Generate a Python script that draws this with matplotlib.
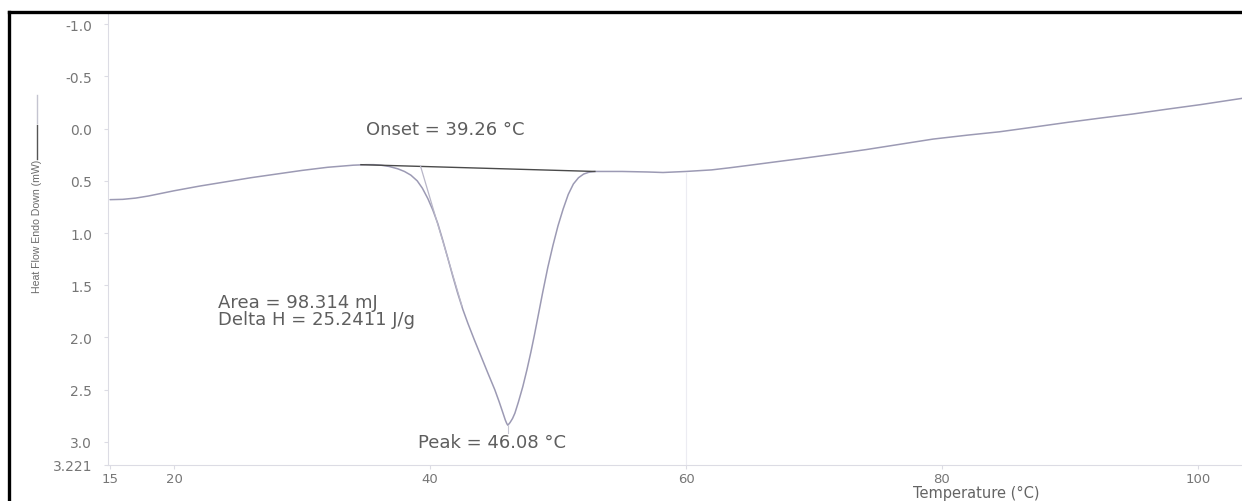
import matplotlib
matplotlib.use("Agg")
import matplotlib.pyplot as plt
from matplotlib.lines import Line2D

# DSC heating scan (temperature in degC, heat flow in mW, endotherm plotted downward)
temperature = [15.0, 16.0, 17.0, 18.0, 19.0, 20.0, 22.0, 24.0, 26.0, 28.0, 30.0, 32.0,
               33.0, 34.0, 35.0, 35.6, 36.16, 36.8, 37.49, 38.0, 38.5, 39.0, 39.4, 39.83,
               40.22, 40.61, 41.0, 41.39, 41.78, 42.17, 42.56, 42.96, 43.47, 43.97, 44.5,
               45.06, 45.4, 45.69, 45.88, 46.0, 46.08, 46.25, 46.45, 46.63, 46.9, 47.25,
               47.57, 47.88, 48.15, 48.42, 48.8, 49.2, 49.6, 50.0, 50.4, 50.8, 51.2, 51.6,
               52.0, 52.4, 52.88, 55.0, 57.0, 58.2, 60.0, 62.0, 63.4, 65.0, 67.0, 68.9,
               71.5, 74.1, 76.7, 79.3, 82.0, 84.5, 87.0, 89.8, 92.3, 94.9, 97.5, 100.2,
               103.44]
heat_flow = [0.68, 0.677, 0.665, 0.645, 0.62, 0.595, 0.55, 0.51, 0.47, 0.435, 0.40, 0.37,
             0.36, 0.35, 0.345, 0.345, 0.35, 0.362, 0.385, 0.41, 0.445, 0.50, 0.57, 0.67,
             0.78, 0.91, 1.07, 1.24, 1.415, 1.58, 1.73, 1.865, 2.025, 2.175, 2.335,
             2.50, 2.615, 2.72, 2.79, 2.825, 2.84, 2.815, 2.775, 2.725, 2.62, 2.47,
             2.31, 2.14, 1.98, 1.81, 1.57, 1.33, 1.12, 0.93, 0.77, 0.63, 0.53, 0.47,
             0.435, 0.418, 0.41, 0.41, 0.415, 0.42, 0.41, 0.395, 0.375, 0.35, 0.318, 0.288,
             0.245, 0.20, 0.15, 0.10, 0.062, 0.03, -0.012, -0.06, -0.10, -0.14, -0.185, -0.23,
             -0.29]

# integration baseline and onset tangent
baseline_t = [34.6, 52.88]
baseline_v = [0.345, 0.41]
tangent_t = [39.26, 42.5]
tangent_v = [0.36, 1.70]

onset_temp = 39.26
peak_temp = 46.08
peak_value = 2.84
area_mj = 98.314
delta_h = 25.2411

y_ticks = [-1.0, -0.5, 0.0, 0.5, 1.0, 1.5, 2.0, 2.5, 3.0, 3.221]
y_tick_labels = ["-1.0", "-0.5", "0.0", "0.5", "1.0", "1.5", "2.0", "2.5", "3.0", "3.221"]
x_ticks = [15, 20, 40, 60, 80, 100]

plt.rcParams['font.family'] = ['DejaVu Sans']

W, H = 1242, 502
fig = plt.figure(figsize=(W / 100, H / 100), dpi=100)
fig.patch.set_facecolor("white")

ax_l, ax_r = 108 / W, 1.0
ax_t, ax_b = 1 - 13 / H, 1 - 466 / H
ax = fig.add_axes([ax_l, ax_b, ax_r - ax_l, ax_t - ax_b])

curve_col = "#9c9ab4"
axis_col = "#dcdce4"
text_col = "#5e5e5e"

ax.plot(temperature, heat_flow, color=curve_col, lw=1.1, solid_capstyle="round",
        solid_joinstyle="round")
ax.plot(baseline_t, baseline_v, color="#4a4a4a", lw=1.0)
ax.plot(tangent_t, tangent_v, color="#b8b6c8", lw=0.9)
# marker tick under the peak and faint guide at 60 degC
ax.plot([peak_temp, peak_temp], [peak_value, peak_value + 0.07], color="#c8c8d4", lw=0.8)
ax.plot([60, 60], [0.42, 3.221], color="#ececf2", lw=0.8)

ax.set_xlim(14.84, 103.44)
ax.set_ylim(3.221, -1.117)

ax.set_yticks(y_ticks)
ax.set_yticklabels(y_tick_labels)
ax.set_xticks(x_ticks)

for side in ("top", "right"):
    ax.spines[side].set_visible(False)
for side in ("left", "bottom"):
    ax.spines[side].set_color(axis_col)
    ax.spines[side].set_linewidth(0.8)

ax.tick_params(axis="y", length=3, color=axis_col, pad=8.5, labelsize=10, labelcolor="#767676")
ax.tick_params(axis="x", length=3, color=axis_col, pad=2, labelsize=9.5, labelcolor="#767676")

ax.set_xlabel("Temperature (°C)", fontsize=10.5, color="#646464", labelpad=0)
ax.xaxis.set_label_coords((976 - 108) / (W - 108), -(493 - 466) / (466 - 13))
ax.xaxis.label.set_va("center")

# y-axis title with its trace key
fig.text(37 / W, 1 - 226 / H, "Heat Flow Endo Down (mW)", rotation=90, fontsize=7.6,
         color="#6a6a6a", ha="center", va="center",
         family=['Liberation Sans Narrow', 'DejaVu Sans Condensed', 'Liberation Sans'])
fig.add_artist(Line2D([37 / W, 37 / W], [1 - 160 / H, 1 - 126 / H], color="#555555", lw=1.0))
fig.add_artist(Line2D([37 / W, 37 / W], [1 - 124 / H, 1 - 96 / H], color="#c4c4d0", lw=1.0))

# annotations
ax.text(35.0, 0.0, f"Onset = {onset_temp:.2f} °C", fontsize=13, color=text_col,
        ha="left", va="center")
ax.text(23.4, 1.74, f"Area = {area_mj:.3f} mJ\nDelta H = {delta_h:.4f} J/g", fontsize=13,
        color=text_col, ha="left", va="center", linespacing=0.92)
ax.text(39.05, 3.0, f"Peak = {peak_temp:.2f} °C", fontsize=13, color=text_col,
        ha="left", va="center")

# black frame edges
fig.add_artist(Line2D([9 / W, 9 / W], [0, 1 - 13 / H], color="black", lw=2.4))
fig.add_artist(Line2D([9 / W, 1.0], [1 - 13 / H, 1 - 13 / H], color="black", lw=2.4))

fig.savefig("out.png", dpi=100, facecolor="white")
